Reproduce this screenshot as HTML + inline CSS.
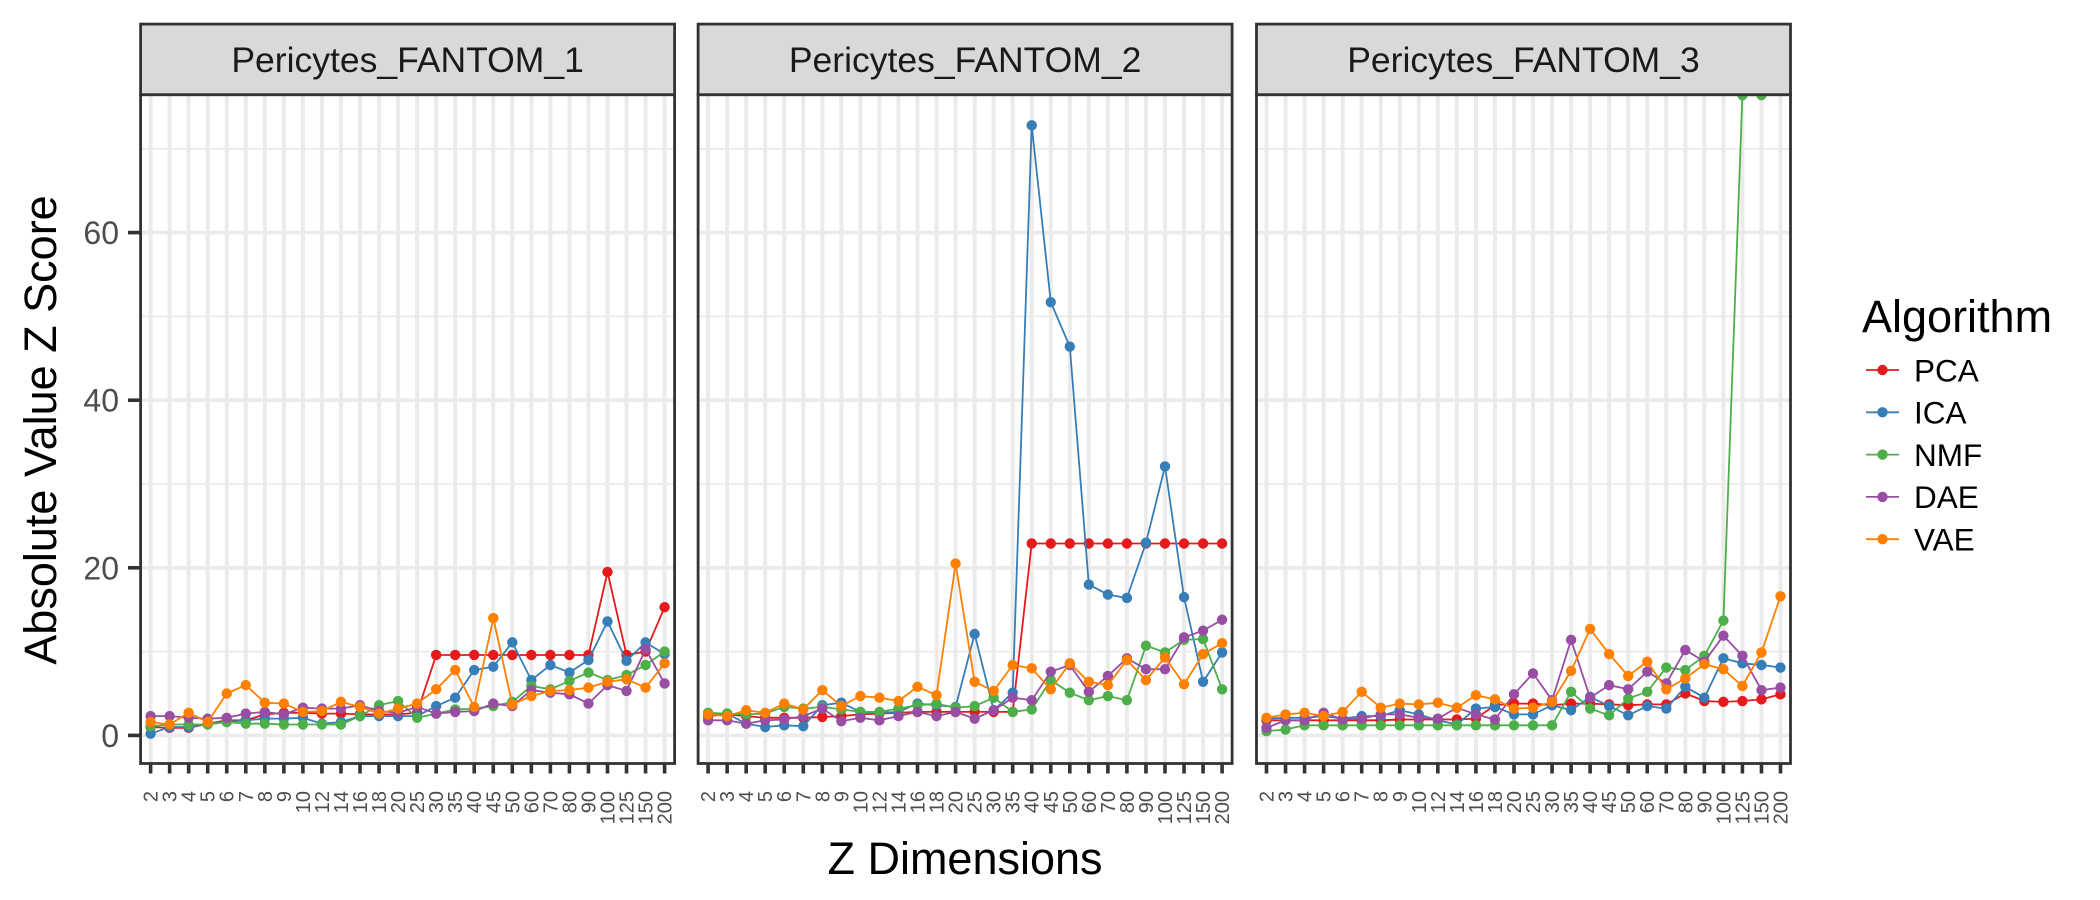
<!DOCTYPE html>
<html><head><meta charset="utf-8"><style>
html,body{margin:0;padding:0;background:#fff;}
svg{display:block;font-family:"Liberation Sans",Arial,sans-serif;}
</style></head><body>
<svg id="chart" width="2100" height="900" viewBox="0 0 2100 900"></svg>
<script>
const categories = ["2","3","4","5","6","7","8","9","10","12","14","16","18","20","25","30","35","40","45","50","60","70","80","90","100","125","150","200"];
const panelTitles = ["Pericytes_FANTOM_1","Pericytes_FANTOM_2","Pericytes_FANTOM_3"];
const algorithms = ["PCA","ICA","NMF","DAE","VAE"];
const colors = ["#E41A1C","#377EB8","#4DAF4A","#984EA3","#FF7F00"];
const yTicks = [0,20,40,60];
const yMinor = [10,30,50,70];

const p1PCA = [1.0,0.9,0.9,1.4,1.8,1.8,2.5,2.7,2.7,2.6,2.6,2.5,2.5,2.5,2.7,9.6,9.6,9.6,9.6,9.6,9.6,9.6,9.6,9.6,19.5,9.6,10.0,15.3];
const p1ICA = [0.2,1.0,1.0,1.4,1.6,1.8,2.0,2.0,2.1,1.4,1.6,2.3,2.3,2.3,2.3,3.5,4.5,7.8,8.2,11.1,6.6,8.4,7.5,9.0,13.6,8.9,11.1,9.7];
const p1NMF = [1.1,1.3,1.3,1.3,1.6,1.4,1.4,1.3,1.3,1.3,1.3,2.3,3.6,4.1,2.1,2.6,3.1,3.2,3.5,4.0,5.9,5.5,6.5,7.5,6.6,7.2,8.4,10.0];
const p1DAE = [2.3,2.3,2.1,2.0,2.1,2.6,2.8,2.5,3.3,3.2,3.2,3.6,2.9,2.7,3.4,2.6,2.8,2.9,3.8,3.5,5.4,5.1,4.9,3.8,6.0,5.3,10.3,6.2];
const p1VAE = [1.6,1.3,2.7,1.6,5.0,6.0,3.9,3.8,2.8,2.9,4.0,3.4,2.6,3.2,3.8,5.5,7.8,3.4,14.0,3.7,4.7,5.3,5.4,5.7,6.4,6.7,5.7,8.6];

const p2PCA = [2.3,2.5,2.3,2.1,2.1,2.1,2.2,2.3,2.5,2.6,2.7,2.8,2.8,2.8,2.8,2.8,2.8,22.9,22.9,22.9,22.9,22.9,22.9,22.9,22.9,22.9,22.9,22.9];
const p2ICA = [2.5,2.6,1.4,1.0,1.2,1.1,3.6,3.9,2.8,2.7,2.8,3.8,3.6,3.4,12.1,3.0,5.1,72.8,51.7,46.4,18.0,16.8,16.4,23.0,32.1,16.5,6.4,9.9];
const p2NMF = [2.7,2.6,2.5,2.6,3.4,3.2,3.4,3.1,2.8,2.8,3.2,3.6,3.8,3.3,3.5,4.5,2.8,3.1,6.6,5.1,4.2,4.7,4.2,10.7,9.9,11.4,11.5,5.5];
const p2DAE = [1.8,1.8,1.4,1.8,1.9,2.3,3.2,1.7,2.1,1.8,2.3,2.8,2.3,2.8,2.0,3.0,4.5,4.2,7.6,8.4,5.2,7.1,9.2,7.9,7.9,11.7,12.5,13.8];
const p2VAE = [2.5,2.3,3.0,2.7,3.8,3.1,5.4,3.5,4.7,4.5,4.1,5.8,4.8,20.5,6.4,5.3,8.4,8.0,5.5,8.6,6.4,6.0,9.0,6.6,9.3,6.1,9.7,11.0];

const p3PCA = [1.8,1.8,1.8,1.8,1.8,1.8,1.8,1.9,1.9,1.9,1.9,2.0,3.6,3.8,3.8,3.6,3.8,3.8,3.7,3.6,3.7,3.7,5.0,4.1,4.0,4.1,4.3,4.9];
const p3ICA = [2.0,2.1,2.1,2.3,2.0,2.3,2.3,3.0,2.5,1.8,1.3,3.2,3.4,2.5,2.5,3.6,3.0,4.6,3.5,2.4,3.5,3.2,5.8,4.5,9.2,8.6,8.4,8.1];
const p3NMF = [0.5,0.7,1.2,1.2,1.2,1.2,1.2,1.2,1.2,1.2,1.2,1.2,1.2,1.2,1.2,1.2,5.2,3.2,2.4,4.4,5.2,8.1,7.8,9.5,13.7,76.4,76.4,120];
const p3DAE = [0.9,1.8,1.8,2.7,1.9,2.0,2.5,2.5,2.1,2.0,3.3,2.5,1.9,4.9,7.4,4.2,11.4,4.5,6.0,5.5,7.6,6.2,10.2,8.8,11.9,9.5,5.4,5.7];
const p3VAE = [2.1,2.5,2.7,2.3,2.8,5.2,3.3,3.8,3.7,3.9,3.3,4.8,4.3,3.2,3.3,4.0,7.7,12.7,9.7,7.1,8.8,5.5,6.8,8.5,7.9,5.9,9.9,16.6];

const panelData = [[p1PCA,p1ICA,p1NMF,p1DAE,p1VAE],[p2PCA,p2ICA,p2NMF,p2DAE,p2VAE],[p3PCA,p3ICA,p3NMF,p3DAE,p3VAE]];

const NS = "http://www.w3.org/2000/svg";
const svg = document.getElementById("chart");
function mk(tag, attrs, parent){const e=document.createElementNS(NS,tag);for(const k in attrs)e.setAttribute(k,attrs[k]);(parent||svg).appendChild(e);return e;}

const panelLefts = [140.6, 698.1, 1256.5];
const panelW = 534, plotTop = 94.7, plotBottom = 763.5, stripTop = 24.1;
const y0px = 735.4, yPerUnit = 8.38;
function yScale(v){return y0px - v*yPerUnit;}
function xScale(p,i){return panelLefts[p] + 10 + i*(514/(categories.length-1));}

const defs = mk("defs",{});
panelLefts.forEach((L,p)=>{
  const cp = mk("clipPath",{id:"clip"+p},defs);
  mk("rect",{x:L,y:plotTop,width:panelW,height:plotBottom-plotTop},cp);
});

panelLefts.forEach((L,p)=>{
  const g = mk("g",{});
  
  
  yMinor.forEach(v=>{ mk("line",{x1:L,x2:L+panelW,y1:yScale(v),y2:yScale(v),stroke:"#ebebeb","stroke-width":1.8},g); });
  yTicks.forEach(v=>{ mk("line",{x1:L,x2:L+panelW,y1:yScale(v),y2:yScale(v),stroke:"#ebebeb","stroke-width":3.6},g); });
  categories.forEach((c,i)=>{ mk("line",{x1:xScale(p,i),x2:xScale(p,i),y1:plotTop,y2:plotBottom,stroke:"#ebebeb","stroke-width":4},g); });
  const sg = mk("g",{"clip-path":"url(#clip"+p+")"},g);
  panelData[p].forEach((vals,s)=>{
    const pts = vals.map((v,i)=>xScale(p,i).toFixed(1)+","+yScale(v).toFixed(1)).join(" ");
    const pl = mk("polyline",{points:pts,fill:"none",stroke:colors[s],"stroke-width":1.8},sg);
    
    
    vals.forEach((v,i)=>{
      const c = mk("circle",{cx:xScale(p,i),cy:yScale(v),r:5.2,fill:colors[s]},sg);
      
      
    });
  });
  mk("rect",{x:L,y:plotTop,width:panelW,height:plotBottom-plotTop,fill:"none",stroke:"#333","stroke-width":2.8},g);
  const st = mk("rect",{x:L,y:stripTop,width:panelW,height:plotTop-stripTop,fill:"#d9d9d9",stroke:"#333","stroke-width":2.8},g);
  
  
  const tt = mk("text",{x:L+panelW/2,y:(stripTop+plotTop)/2+12.5,"text-anchor":"middle","font-size":35.5,fill:"#1a1a1a"},g);
  tt.textContent = panelTitles[p];
  
  
  categories.forEach((c,i)=>{
    const x = xScale(p,i);
    mk("line",{x1:x,x2:x,y1:plotBottom,y2:plotBottom+10,stroke:"#333","stroke-width":3.6},g);
    const t = mk("text",{x:0,y:0,transform:"translate("+(x+7)+","+791+") rotate(-90)","text-anchor":"end","font-size":20,fill:"#4d4d4d"},g);
    t.textContent = c;
    
    
  });
});

yTicks.forEach(v=>{
  mk("line",{x1:128,x2:140.6,y1:yScale(v),y2:yScale(v),stroke:"#333","stroke-width":3.6});
  const t = mk("text",{x:119,y:yScale(v)+11.5,"text-anchor":"end","font-size":32,fill:"#4d4d4d"});
  t.textContent = v;
  
  
});

const yt = mk("text",{x:0,y:0,transform:"translate(56,430) rotate(-90)","text-anchor":"middle","font-size":45,fill:"#000"});
yt.textContent = "Absolute Value Z Score";



const xt = mk("text",{x:965,y:874,"text-anchor":"middle","font-size":45,fill:"#000"});
xt.textContent = "Z Dimensions";



const lg = mk("g",{});


const ltitle = mk("text",{x:1862,y:332,"font-size":45,fill:"#000"},lg);
ltitle.textContent = "Algorithm";


algorithms.forEach((a,s)=>{
  const cy = 370 + s*42.3;
  const eg = mk("g",{},lg);
  
  
  mk("line",{x1:1866,x2:1899,y1:cy,y2:cy,stroke:colors[s],"stroke-width":1.8},eg);
  mk("circle",{cx:1882.5,cy:cy,r:5.2,fill:colors[s]},eg);
  const t = mk("text",{x:1914,y:cy+11.3,"font-size":31.5,fill:"#000"},eg);
  t.textContent = a;
});
</script>
</body></html>
